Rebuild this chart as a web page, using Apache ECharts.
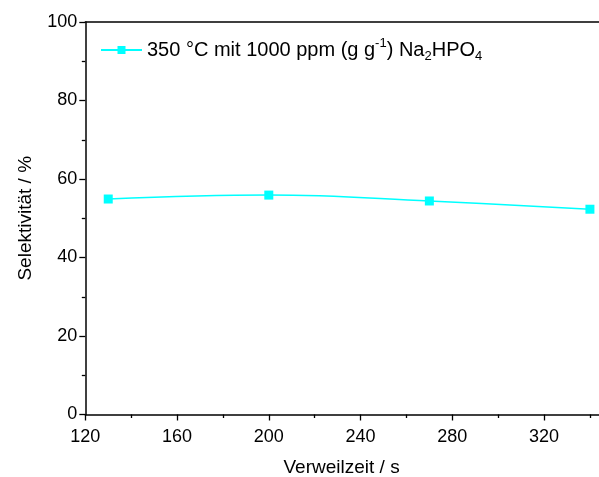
<!DOCTYPE html>
<html>
<head>
<meta charset="utf-8">
<script src="https://cdn.jsdelivr.net/npm/echarts@6/dist/echarts.min.js"></script>
<style>
html,body{margin:0;padding:0;background:#fff;}
#chart{width:599px;height:477px;}
</style>
</head>
<body>
<div id="chart"></div>
<script>
var residenceTimes = [130, 200, 270, 340];
var selectivity = [54.9, 55.9, 54.4, 52.3];
var seriesName = '350 °C mit 1000 ppm (g g-1) Na2HPO4';
var xAxisTitle = 'Verweilzeit / s';
var yAxisTitle = 'Selektivität / %';

var FONT = 'Arial, "Liberation Sans", sans-serif';
var chart = echarts.init(document.getElementById('chart'), null, {renderer: 'canvas'});
var points = residenceTimes.map(function (x, i) { return [x, selectivity[i]]; });

var option = {
  backgroundColor: '#ffffff',
  animation: false,
  textStyle: {fontFamily: FONT, color: '#000'},
  grid: {left: 85.3, top: 22, width: 550.5, height: 392.5, containLabel: false, outerBoundsMode: 'none'},
  legend: {
    show: true,
    left: 100,
    top: 37,
    padding: 0,
    itemWidth: 41,
    itemHeight: 10,
    itemGap: 6,
    data: [seriesName],
    formatter: function () {
      return '{n|350 °C mit 1000 ppm (g g}{sup|-1}{n|) Na}{sub|2}{n|HPO}{sub|4}';
    },
    textStyle: {
      fontFamily: FONT,
      color: '#000',
      fontSize: 20,
      rich: {
        n: {fontSize: 20, fontFamily: FONT, color: '#000', lineHeight: 26, verticalAlign: 'middle'},
        sup: {fontSize: 13, fontFamily: FONT, color: '#000', lineHeight: 26, verticalAlign: 'top'},
        sub: {fontSize: 13, fontFamily: FONT, color: '#000', lineHeight: 26, verticalAlign: 'bottom'}
      }
    }
  },
  xAxis: [{
    type: 'value',
    position: 'bottom',
    min: 120,
    max: 360,
    interval: 40,
    name: xAxisTitle,
    nameLocation: 'middle',
    nameGap: 44,
    nameTextStyle: {fontFamily: FONT, fontSize: 19, color: '#000', padding: [0, 38, 0, 0]},
    axisLine: {show: true, onZero: false, lineStyle: {color: '#000', width: 1.5}},
    axisTick: {show: true, inside: false, length: 6, lineStyle: {color: '#000', width: 1.3}},
    minorTick: {show: true, splitNumber: 2, length: 3.5, lineStyle: {color: '#000', width: 1.3}},
    axisLabel: {fontFamily: FONT, fontSize: 18, color: '#000', margin: 14},
    splitLine: {show: false}
  }, {
    type: 'value',
    position: 'top',
    min: 120,
    max: 360,
    axisLine: {show: true, onZero: false, lineStyle: {color: '#000', width: 1.5}},
    axisTick: {show: false},
    axisLabel: {show: false},
    splitLine: {show: false}
  }],
  yAxis: {
    type: 'value',
    min: 0,
    max: 100,
    interval: 20,
    name: yAxisTitle,
    nameLocation: 'middle',
    nameGap: 50,
    nameTextStyle: {fontFamily: FONT, fontSize: 19, color: '#000'},
    axisLine: {show: true, onZero: false, lineStyle: {color: '#000', width: 1.5}},
    axisTick: {show: true, inside: false, length: 6, lineStyle: {color: '#000', width: 1.3}},
    minorTick: {show: true, splitNumber: 2, length: 3.5, lineStyle: {color: '#000', width: 1.3}},
    axisLabel: {fontFamily: FONT, fontSize: 18, color: '#000', margin: 8},
    splitLine: {show: false}
  },
  series: [{
    name: seriesName,
    type: 'line',
    xAxisIndex: 0,
    data: points,
    smooth: 0.4,
    symbol: 'rect',
    symbolSize: 9,
    itemStyle: {color: '#00ffff'},
    lineStyle: {color: '#00ffff', width: 1.5},
    clip: false
  }]
};
chart.setOption(option);
</script>
</body>
</html>
